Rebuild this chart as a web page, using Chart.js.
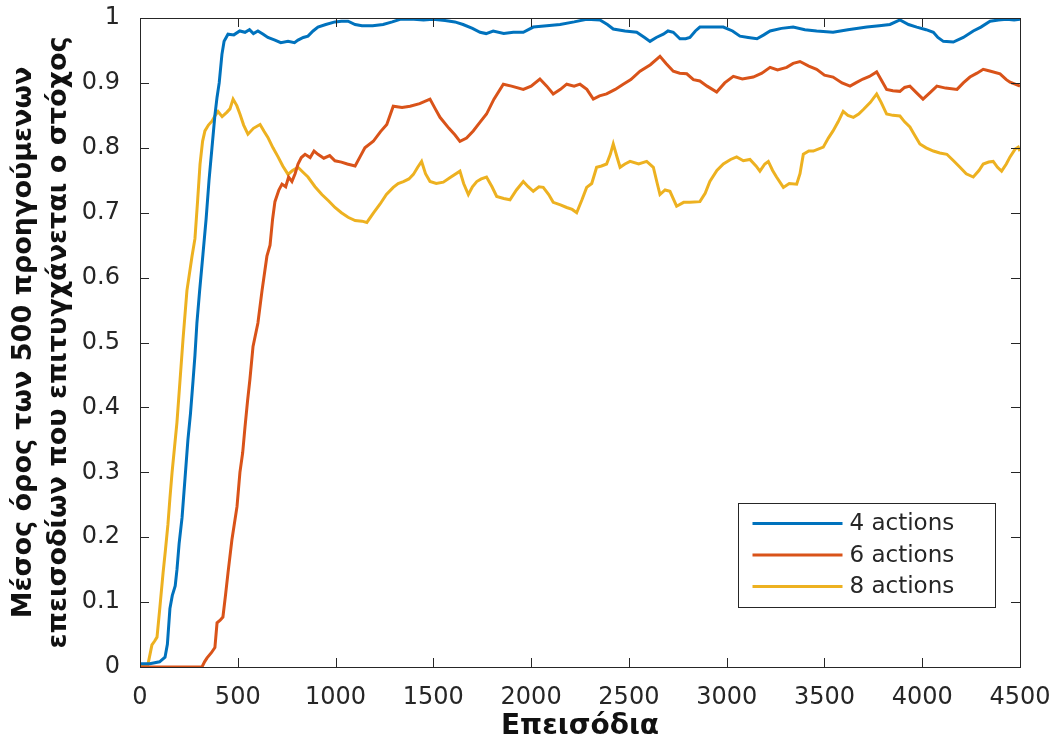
<!DOCTYPE html>
<html>
<head>
<meta charset="utf-8">
<script src="https://cdn.jsdelivr.net/npm/chart.js@4.4.1/dist/chart.umd.min.js"></script>
<style>
  html, body { margin: 0; padding: 0; background: #fff; }
  #wrap { width: 1059px; height: 745px; }
</style>
</head>
<body>
<div id="wrap"><canvas id="chart"></canvas></div>
<script>
// moving success rate over the previous 500 episodes, per action count
const labels = ["4 actions", "6 actions", "8 actions"]
const colors = ["#0072BD", "#D95319", "#EDB120"]

const ep4 = [0, 50, 100, 128, 140, 153, 165, 180, 189, 200, 215, 230, 245, 258, 271, 281, 291, 305, 322, 338, 353, 368, 383, 394, 405, 419, 430, 450, 480, 510, 537, 560, 580, 603, 630, 654, 690, 720, 757, 790, 808, 835, 859, 885, 910, 950, 997, 1030, 1064, 1100, 1135, 1190, 1243, 1290, 1330, 1400, 1450, 1498, 1560, 1610, 1652, 1700, 1739, 1770, 1806, 1860, 1909, 1960, 2011, 2080, 2148, 2220, 2284, 2352, 2390, 2420, 2480, 2540, 2580, 2608, 2640, 2676, 2700, 2727, 2761, 2790, 2812, 2840, 2863, 2920, 2983, 3030, 3068, 3110, 3155, 3190, 3222, 3280, 3340, 3400, 3460, 3544, 3620, 3717, 3780, 3835, 3886, 3930, 3972, 4020, 4057, 4080, 4108, 4159, 4210, 4261, 4300, 4347, 4390, 4432, 4470, 4500]
const val4 = [0.005, 0.005, 0.008, 0.015, 0.035, 0.09, 0.11, 0.125, 0.15, 0.19, 0.23, 0.29, 0.35, 0.39, 0.44, 0.48, 0.53, 0.58, 0.636, 0.69, 0.75, 0.80, 0.85, 0.878, 0.90, 0.944, 0.964, 0.975, 0.974, 0.98, 0.978, 0.982, 0.976, 0.98, 0.975, 0.97, 0.966, 0.962, 0.964, 0.962, 0.966, 0.97, 0.972, 0.98, 0.986, 0.99, 0.994, 0.995, 0.995, 0.99, 0.988, 0.988, 0.99, 0.994, 0.998, 0.998, 0.997, 0.998, 0.996, 0.994, 0.99, 0.984, 0.978, 0.976, 0.98, 0.976, 0.978, 0.978, 0.986, 0.988, 0.99, 0.994, 0.998, 0.997, 0.99, 0.983, 0.98, 0.978, 0.97, 0.964, 0.97, 0.975, 0.98, 0.978, 0.968, 0.968, 0.97, 0.98, 0.986, 0.986, 0.986, 0.98, 0.972, 0.97, 0.968, 0.974, 0.98, 0.984, 0.986, 0.982, 0.98, 0.978, 0.982, 0.986, 0.988, 0.99, 0.997, 0.99, 0.986, 0.982, 0.978, 0.97, 0.964, 0.963, 0.97, 0.98, 0.986, 0.995, 0.997, 0.998, 0.997, 0.998]

const ep6 = [0, 317, 330, 343, 365, 383, 394, 410, 424, 437, 450, 470, 496, 511, 525, 537, 550, 562, 578, 603, 624, 649, 665, 678, 690, 710, 726, 745, 760, 777, 793, 808, 825, 844, 870, 890, 910, 940, 970, 997, 1030, 1060, 1100, 1125, 1150, 1193, 1230, 1262, 1295, 1340, 1381, 1430, 1483, 1510, 1534, 1580, 1610, 1636, 1670, 1704, 1740, 1772, 1810, 1858, 1900, 1960, 2000, 2045, 2080, 2113, 2150, 2182, 2220, 2250, 2285, 2318, 2350, 2386, 2430, 2471, 2510, 2557, 2610, 2659, 2690, 2727, 2760, 2796, 2830, 2863, 2900, 2949, 2990, 3034, 3080, 3136, 3180, 3222, 3260, 3307, 3340, 3375, 3420, 3460, 3500, 3544, 3590, 3631, 3660, 3697, 3730, 3767, 3790, 3818, 3850, 3886, 3910, 3937, 3970, 4004, 4040, 4075, 4120, 4178, 4210, 4244, 4280, 4312, 4350, 4398, 4430, 4449, 4475, 4500]
const val6 = [0, 0, 0.008, 0.014, 0.022, 0.03, 0.068, 0.072, 0.077, 0.11, 0.145, 0.196, 0.247, 0.30, 0.33, 0.37, 0.41, 0.443, 0.494, 0.53, 0.58, 0.633, 0.65, 0.69, 0.717, 0.735, 0.744, 0.74, 0.755, 0.748, 0.76, 0.775, 0.785, 0.79, 0.785, 0.795, 0.79, 0.784, 0.788, 0.78, 0.778, 0.775, 0.772, 0.786, 0.80, 0.81, 0.825, 0.836, 0.864, 0.862, 0.864, 0.868, 0.875, 0.86, 0.847, 0.83, 0.82, 0.81, 0.815, 0.826, 0.84, 0.852, 0.875, 0.898, 0.895, 0.89, 0.895, 0.906, 0.895, 0.883, 0.89, 0.898, 0.895, 0.898, 0.89, 0.875, 0.88, 0.883, 0.89, 0.898, 0.905, 0.918, 0.928, 0.941, 0.93, 0.918, 0.915, 0.914, 0.905, 0.903, 0.895, 0.886, 0.90, 0.91, 0.906, 0.909, 0.915, 0.924, 0.92, 0.924, 0.93, 0.933, 0.926, 0.921, 0.912, 0.909, 0.90, 0.895, 0.90, 0.906, 0.91, 0.917, 0.905, 0.89, 0.888, 0.887, 0.893, 0.895, 0.885, 0.875, 0.885, 0.895, 0.892, 0.89, 0.90, 0.909, 0.915, 0.921, 0.918, 0.914, 0.905, 0.901, 0.898, 0.895]

const ep8 = [0, 40, 61, 75, 87, 102, 118, 130, 143, 153, 164, 177, 189, 205, 220, 240, 266, 281, 295, 307, 320, 332, 350, 368, 385, 399, 420, 445, 460, 476, 495, 511, 530, 552, 580, 614, 635, 654, 680, 706, 730, 757, 780, 808, 835, 859, 895, 930, 965, 997, 1030, 1064, 1100, 1135, 1160, 1195, 1227, 1260, 1295, 1320, 1347, 1375, 1398, 1420, 1440, 1460, 1483, 1515, 1551, 1590, 1636, 1655, 1679, 1700, 1722, 1745, 1772, 1800, 1824, 1860, 1892, 1925, 1960, 1985, 2011, 2040, 2062, 2090, 2113, 2150, 2182, 2210, 2233, 2260, 2284, 2310, 2335, 2360, 2386, 2405, 2420, 2440, 2455, 2480, 2506, 2550, 2591, 2625, 2645, 2659, 2685, 2710, 2744, 2780, 2812, 2863, 2890, 2914, 2950, 2983, 3020, 3051, 3085, 3119, 3150, 3170, 3195, 3213, 3235, 3255, 3290, 3320, 3358, 3375, 3392, 3420, 3443, 3494, 3520, 3544, 3570, 3596, 3620, 3648, 3675, 3699, 3735, 3767, 3790, 3818, 3850, 3886, 3910, 3937, 3960, 3988, 4020, 4057, 4090, 4126, 4160, 4193, 4225, 4261, 4290, 4312, 4340, 4363, 4385, 4406, 4430, 4449, 4475, 4491, 4500]
const val8 = [0.002, 0.003, 0.034, 0.04, 0.046, 0.093, 0.145, 0.18, 0.22, 0.26, 0.30, 0.34, 0.377, 0.443, 0.505, 0.58, 0.633, 0.66, 0.72, 0.775, 0.81, 0.826, 0.835, 0.841, 0.85, 0.856, 0.848, 0.855, 0.86, 0.875, 0.865, 0.852, 0.835, 0.821, 0.83, 0.836, 0.825, 0.816, 0.80, 0.786, 0.772, 0.759, 0.765, 0.77, 0.762, 0.755, 0.74, 0.728, 0.718, 0.708, 0.70, 0.693, 0.688, 0.687, 0.685, 0.70, 0.713, 0.728, 0.739, 0.745, 0.748, 0.752, 0.759, 0.77, 0.779, 0.76, 0.748, 0.745, 0.747, 0.755, 0.764, 0.745, 0.728, 0.74, 0.748, 0.752, 0.755, 0.74, 0.725, 0.722, 0.72, 0.735, 0.748, 0.74, 0.733, 0.74, 0.739, 0.728, 0.716, 0.712, 0.708, 0.705, 0.70, 0.72, 0.739, 0.745, 0.77, 0.772, 0.775, 0.79, 0.806, 0.785, 0.77, 0.775, 0.779, 0.775, 0.779, 0.77, 0.745, 0.728, 0.735, 0.733, 0.71, 0.716, 0.716, 0.717, 0.73, 0.748, 0.765, 0.775, 0.782, 0.786, 0.78, 0.782, 0.772, 0.764, 0.775, 0.779, 0.765, 0.755, 0.739, 0.745, 0.744, 0.76, 0.79, 0.795, 0.795, 0.801, 0.815, 0.826, 0.84, 0.856, 0.85, 0.847, 0.852, 0.859, 0.87, 0.883, 0.87, 0.852, 0.85, 0.849, 0.84, 0.832, 0.82, 0.806, 0.80, 0.795, 0.792, 0.79, 0.78, 0.77, 0.76, 0.755, 0.765, 0.775, 0.778, 0.779, 0.77, 0.764, 0.775, 0.786, 0.798, 0.801, 0.795]

const xTitle = "Επεισόδια"
const yTitle = ["Μέσος όρος των 500 προηγούμενων", "επεισοδίων που επιτυγχάνεται ο στόχος"]

const FONT = "'DejaVu Sans', 'Liberation Sans', sans-serif"
const INK = "#262626"

const pairs = (xs, ys) => xs.map((x, i) => ({x, y: ys[i]}))

// matlab-style box with inward ticks on all four sides, plus the legend box
const frame = {
  id: "frame",
  afterDatasetsDraw(chart) {
    const {ctx, chartArea: a, scales: {x, y}} = chart
    const len = 9
    ctx.save()
    ctx.strokeStyle = INK
    ctx.lineWidth = 1
    ctx.beginPath()
    x.ticks.forEach(t => {
      const px = Math.round(x.getPixelForValue(t.value)) + 0.5
      ctx.moveTo(px, a.bottom); ctx.lineTo(px, a.bottom - len)
      ctx.moveTo(px, a.top); ctx.lineTo(px, a.top + len)
    })
    y.ticks.forEach(t => {
      const py = Math.round(y.getPixelForValue(t.value)) + 0.5
      ctx.moveTo(a.left, py); ctx.lineTo(a.left + len, py)
      ctx.moveTo(a.right, py); ctx.lineTo(a.right - len, py)
    })
    ctx.stroke()
    ctx.strokeRect(Math.round(a.left) + 0.5, Math.round(a.top) + 0.5, Math.round(a.right - a.left), Math.round(a.bottom - a.top))

    // legend
    const bw = 257, bh = 104
    const bx = Math.round(a.right - 25 - bw) + 0.5
    const by = Math.round(a.bottom - 60 - bh) + 0.5
    ctx.fillStyle = "#fff"
    ctx.fillRect(bx, by, bw, bh)
    ctx.strokeRect(bx, by, bw, bh)
    ctx.font = `23px ${FONT}`
    ctx.textBaseline = "middle"
    ctx.textAlign = "left"
    chart.data.datasets.forEach((ds, i) => {
      const ly = by + 20 + i * 31.5
      ctx.strokeStyle = ds.borderColor
      ctx.lineWidth = ds.borderWidth
      ctx.beginPath()
      ctx.moveTo(bx + 14, ly); ctx.lineTo(bx + 104, ly)
      ctx.stroke()
      ctx.fillStyle = INK
      ctx.fillText(ds.label, bx + 111, ly + 1)
    })
    ctx.restore()
  }
}

const series = [pairs(ep4, val4), pairs(ep6, val6), pairs(ep8, val8)]

new Chart(document.getElementById("chart"), {
  type: "line",
  data: {
    datasets: series.map((data, i) => ({
      label: labels[i],
      data,
      borderColor: colors[i],
      borderWidth: 3,
      pointRadius: 0,
      tension: 0,
      fill: false
    }))
  },
  options: {
    responsive: true,
    maintainAspectRatio: false,
    animation: false,
    layout: {padding: {left: 0, right: 39, top: 18, bottom: 0}},
    plugins: {legend: {display: false}, tooltip: {enabled: false}},
    scales: {
      x: {
        type: "linear",
        min: 0,
        max: 4500,
        grid: {display: false},
        border: {display: false},
        ticks: {stepSize: 500, color: INK, padding: 8, maxRotation: 0, font: {family: FONT, size: 24}, callback: v => String(v)},
        title: {display: true, text: xTitle, color: "#111", padding: {top: 0, bottom: 1}, font: {family: FONT, size: 28, weight: "bold"}},
        afterFit(scale) { scale.height = 78 }
      },
      y: {
        min: 0,
        max: 1,
        grid: {display: false},
        border: {display: false},
        ticks: {stepSize: 0.1, color: INK, padding: 12, font: {family: FONT, size: 24}, callback: v => String(+v.toFixed(1))},
        title: {display: true, text: yTitle, color: "#111", padding: {top: 6, bottom: 0}, font: {family: FONT, size: 27, weight: "bold", lineHeight: 1.32}},
        afterFit(scale) {
          scale.width = 140
          scale.paddingTop = 0
          scale.paddingBottom = 0
        }
      }
    }
  },
  plugins: [frame]
})
</script>
</body>
</html>
